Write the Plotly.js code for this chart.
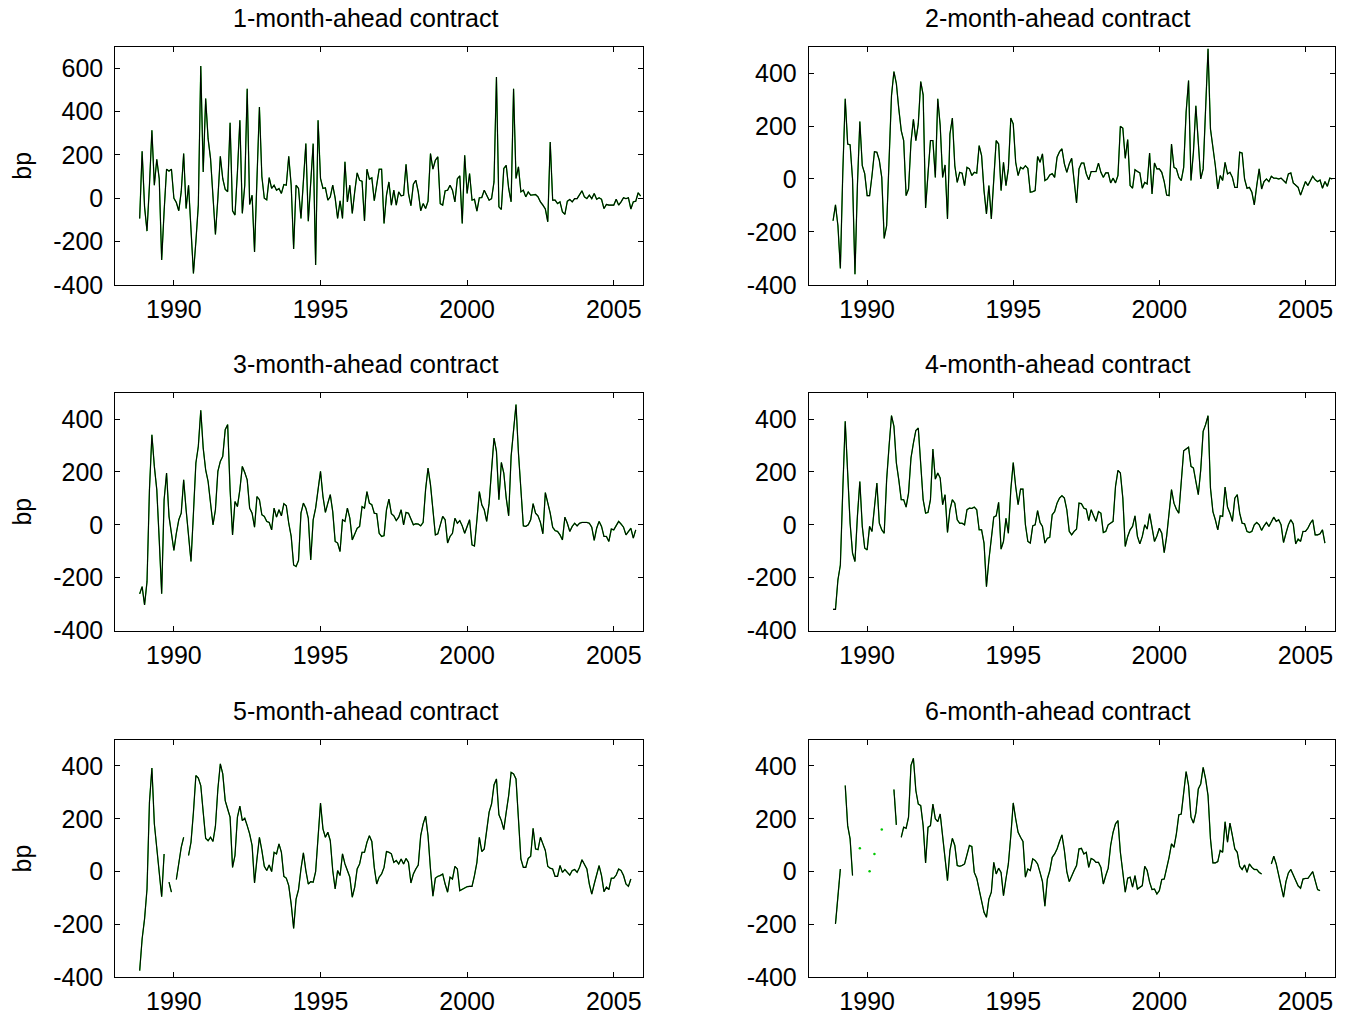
<!DOCTYPE html>
<html>
<head>
<meta charset="utf-8">
<script src="https://cdn.plot.ly/plotly-3.0.1.min.js"></script>
<style>html,body{margin:0;padding:0;background:#fff;}#chart{width:1351px;height:1017px;}</style>
</head>
<body>
<div id="chart"></div>
<script>
// Monthly observations starting November 1988
const startYear = 1988;
const startMonth = 11;

const panelTitles = ["1-month-ahead contract","2-month-ahead contract","3-month-ahead contract",
                     "4-month-ahead contract","5-month-ahead contract","6-month-ahead contract"];

const xTickVals = [1990, 1995, 2000, 2005];
const xTickText = ["1990", "1995", "2000", "2005"];
const yTickValsTop = [-400, -200, 0, 200, 400, 600];
const yTickTextTop = ["-400", "-200", "0", "200", "400", "600"];
const yTickVals = [-400, -200, 0, 200, 400];
const yTickText = ["-400", "-200", "0", "200", "400"];
const yAxisLabel = "bp";

// Series values (bp). Both drawn series coincide at this resolution.
const month1 = [-94,217,-40,-152,60,314,60,180,90,-286,-60,134,125,134,0,-20,-58,30,206,-48,
60,-150,-348,-200,-32,611,121,460,275,183,10,-168,0,194,90,41,30,349,-58,-78,
120,360,-70,60,506,-29,14,-248,90,421,100,0,-8,95,45,60,37,45,22,63,
60,194,60,-235,60,45,-94,100,252,-106,90,252,-309,360,91,45,48,-9,6,60,
0,-94,-12,-94,168,-17,60,-70,30,117,83,78,-105,134,88,94,-12,60,134,134,
-117,14,75,-32,37,-32,29,11,14,157,22,-35,65,83,29,-58,-25,-48,-14,206,
134,175,191,-25,-32,34,37,60,37,-17,90,103,-117,198,22,114,-9,-5,-60,2,
3,37,11,-9,-2,75,560,-40,-52,137,152,45,-17,506,91,145,29,37,6,29,
14,14,17,6,-17,-32,-50,-109,260,-9,-9,-25,-17,-63,-75,-14,-6,-17,-2,-2,
14,34,6,-2,14,-2,22,-5,2,-5,-48,-29,-32,-32,-32,-5,-32,-17,2,-2,
2,-50,-17,-14,25,10];

const month2 = [-158,-98,-177,-338,25,303,132,129,0,-360,-25,217,50,20,-63,-63,13,103,101,70,
6,-225,-177,50,315,406,360,265,183,145,-63,-38,139,225,145,208,368,318,-110,20,
145,145,6,303,202,6,53,-151,170,230,50,-13,25,22,-25,44,38,13,25,22,
126,88,-44,-132,-25,-151,-10,145,132,-44,63,-25,38,230,208,63,13,44,38,50,
40,-50,-48,-44,85,63,95,-6,0,15,20,6,82,103,114,57,25,57,78,-13,
-91,38,60,60,19,-3,28,28,28,60,25,6,23,23,-15,3,-15,13,199,192,
78,149,-25,-35,35,28,23,-35,-13,-19,98,-57,60,38,38,25,-10,-61,-63,132,
44,38,6,-6,44,252,372,-6,101,277,114,0,38,250,492,189,126,50,-38,13,
-6,63,19,25,6,-32,-32,101,98,0,-35,-32,-50,-98,-25,38,-38,-10,0,-10,
10,3,3,0,3,-6,-15,19,23,-15,-23,-32,-61,-32,-10,-25,-10,10,-3,-10,
-4,-35,-10,-28,3,0];

const month3 = [-261,-234,-303,-215,133,341,221,133,-57,-261,95,196,32,-44,-97,-32,19,44,170,57,
-44,-139,44,234,297,433,290,208,164,69,0,57,202,240,259,360,379,133,-38,88,
69,133,221,198,170,63,44,-9,107,95,38,32,13,9,-19,63,29,57,34,80,
72,6,-44,-152,-158,-135,44,82,63,25,-133,19,63,133,202,107,47,82,114,50,
-63,-69,-101,19,13,63,25,-57,-34,-13,-6,69,63,126,82,76,44,42,-32,-44,
-41,57,97,42,34,16,29,57,0,47,44,19,0,4,3,-4,9,133,215,152,
69,-38,-34,0,32,19,-69,-44,-32,25,6,16,-4,-32,-6,19,-76,-80,19,126,
76,57,13,82,208,328,278,95,236,196,101,34,259,360,455,272,133,-4,-6,0,
19,80,44,34,9,-34,122,88,44,-9,-22,-25,-38,-57,29,6,-25,-6,6,-4,
6,9,9,9,6,-9,-59,-13,13,-6,-44,-44,-63,-16,-19,-4,13,3,-9,-38,
-25,-13,-50,-19,null,null];

const month4 = [-320,-320,-208,-152,133,392,196,6,-107,-139,32,164,-6,-88,-95,-6,-25,57,158,6,
-19,-32,170,297,413,373,234,170,95,95,67,120,253,309,357,366,221,95,44,47,
95,287,173,196,177,76,114,-29,57,95,82,19,6,6,0,57,63,62,67,57,
-19,-19,-69,-234,-133,-57,29,34,85,-92,-63,25,-32,133,236,145,76,135,135,0,
-63,-69,-4,0,54,9,-6,-69,-51,-47,38,50,82,101,110,101,57,-25,-38,-25,
-16,82,80,63,59,16,57,34,13,50,44,-29,-25,0,6,13,145,206,196,101,
-82,-44,-19,-6,34,-44,-72,-44,0,-16,42,-19,-63,-42,-13,-32,-105,-44,50,133,
82,59,44,170,280,287,294,221,215,164,114,208,354,379,413,139,50,19,-19,34,
32,143,67,44,13,101,114,44,6,4,-25,-29,-25,0,9,0,-21,-4,9,-6,
9,29,13,19,0,-67,-32,0,19,3,-72,-54,-63,-25,-25,-13,6,19,-38,-38,
-34,-19,-69,null,null,null];

const month5 = [-375,-255,-179,-66,263,392,181,92,-15,-95,67,null,-40,-78,null,-30,35,92,130,null,
61,111,225,364,354,326,225,126,117,130,114,172,313,408,370,269,237,206,16,61,
206,248,193,202,174,143,99,-43,48,130,80,20,4,25,0,73,67,105,73,-18,
-25,-53,-123,-215,-104,-68,10,71,4,-47,-38,-40,0,136,260,162,130,149,117,4,
-66,4,-15,67,29,4,-21,-97,-59,10,29,73,73,111,136,114,16,-47,-21,-9,
16,76,73,67,35,42,29,48,29,50,35,-43,-9,10,25,136,181,210,136,10,
-93,-25,-18,-15,-9,-47,-78,-21,-28,20,10,-72,-66,-60,-57,-56,-56,-15,35,130,
76,86,162,225,256,328,351,216,193,159,225,288,376,370,351,174,48,16,16,50,
58,164,86,83,130,105,80,20,13,10,-18,-18,23,-3,8,-3,-13,4,8,-3,
16,45,29,10,-47,-85,-47,-13,23,-15,-76,-59,-68,-25,-25,-13,10,4,-15,-47,
-56,-28,null,null,null,null];

const month6 = [null,-198,-85,10,null,326,174,124,-15,null,null,88,null,null,null,1,null,67,null,null,
159,null,null,null,null,311,177,null,130,168,164,206,402,429,307,256,250,174,33,168,
174,256,200,189,218,136,61,-34,80,126,99,23,20,23,29,67,99,95,-3,-25,
-66,-116,-154,-173,-104,-78,35,-9,13,-3,-91,-28,29,136,260,200,149,130,114,-21,
10,4,48,42,29,-3,-38,-131,-28,4,54,67,86,114,139,80,0,-38,-15,4,
23,86,88,67,73,16,50,45,35,35,16,-47,-15,13,99,149,181,193,73,-15,
-78,-25,-21,-59,-15,-66,-59,-53,20,4,-40,-68,-66,-85,-72,-30,-28,10,54,105,
92,143,215,218,313,379,326,206,184,222,313,332,395,351,288,124,33,33,38,80,
73,189,111,184,136,86,73,20,8,25,-3,29,16,8,8,-3,-9,null,null,null,
29,58,29,-15,-53,-97,-38,-5,8,-13,-40,-54,-63,-28,-26,-26,-13,0,-34,-68,
-72,null,null,null,null,null];

const panelSeries = [month1, month2, month3, month4, month5, month6];

const xDomains = [[0.0853, 0.4760], [0.5986, 0.9879]];
const yDomains = [[0.7200, 0.9541], [0.3800, 0.6139], [0.0391, 0.2728]];

const FONT = "Liberation Sans, Arial, sans-serif";
const FS = 25;
const green = "rgb(0,200,0)";

const traces = [];
const layout = {
  width: 1351, height: 1017,
  margin: {l: 0, r: 0, t: 0, b: 0},
  paper_bgcolor: "#ffffff", plot_bgcolor: "#ffffff",
  showlegend: false,
  font: {family: FONT, size: FS, color: "#000"},
  annotations: []
};

panelSeries.forEach((vals, k) => {
  const n = k + 1;
  const xs = vals.map((_, i) => startYear + (startMonth - 1 + i) / 12);
  const xa = "x" + n, ya = "y" + n;
  traces.push({x: xs, y: vals, xaxis: xa, yaxis: ya, type: "scatter", mode: "lines",
    line: {color: green, width: 1.3}, connectgaps: false, hoverinfo: "skip"});
  // isolated observations (no neighbours) drawn as dots
  const ix = [], iy = [];
  vals.forEach((v, i) => {
    if (v !== null && (i === 0 || vals[i-1] === null) && (i === vals.length-1 || vals[i+1] === null)) {
      ix.push(xs[i]); iy.push(v);
    }
  });
  if (ix.length) {
    traces.push({x: ix, y: iy, xaxis: xa, yaxis: ya, type: "scatter", mode: "markers",
      marker: {color: green, size: 2.5}, hoverinfo: "skip"});
  }
  traces.push({x: xs, y: vals, xaxis: xa, yaxis: ya, type: "scatter", mode: "lines",
    line: {color: "#000000", width: 1.05}, connectgaps: false, hoverinfo: "skip"});

  const col = k % 2, row = Math.floor(k / 2);
  const top = (k === 0);
  const axCommon = {
    showline: true, linecolor: "#000", linewidth: 1, mirror: "ticks",
    ticks: "inside", ticklen: 5, tickwidth: 1, tickcolor: "#000",
    showgrid: false, zeroline: false, fixedrange: true,
    tickfont: {family: FONT, size: FS, color: "#000"}
  };
  layout["xaxis" + n] = Object.assign({}, axCommon, {
    domain: xDomains[col], anchor: ya, range: [1988, 2006],
    tickmode: "array", tickvals: xTickVals, ticktext: xTickText, ticklabelstandoff: 2
  });
  layout["yaxis" + n] = Object.assign({}, axCommon, {
    domain: yDomains[row], anchor: xa, range: top ? [-400, 700] : [-400, 500],
    tickmode: "array", tickvals: top ? yTickValsTop : yTickVals,
    ticktext: top ? yTickTextTop : yTickText, ticklabelstandoff: 6
  });
  const xd = xDomains[col], yd = yDomains[row];
  layout.annotations.push({
    text: panelTitles[k], xref: "paper", yref: "paper",
    x: (xd[0] + xd[1]) / 2 - 14 / 1351, y: yd[1] + 0.0125, xanchor: "center", yanchor: "bottom",
    showarrow: false, font: {family: FONT, size: FS, color: "#000"}
  });
  if (col === 0) {
    layout.annotations.push({
      text: yAxisLabel, xref: "paper", yref: "paper", textangle: -90,
      x: 22 / 1351, y: (yd[0] + yd[1]) / 2, xanchor: "center", yanchor: "middle",
      showarrow: false, font: {family: FONT, size: FS, color: "#000"}
    });
  }
});

Plotly.newPlot("chart", traces, layout, {displayModeBar: false, staticPlot: true});
</script>
</body>
</html>
